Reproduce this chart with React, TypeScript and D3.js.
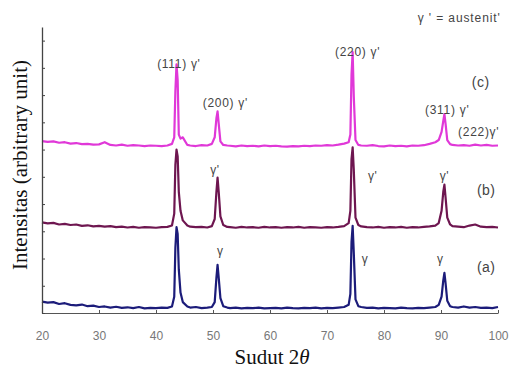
import { useEffect, useRef } from "react";
import * as d3 from "d3";

// 2θ sampling points (denser around the reflections)
const angles = [
  20, 21, 22, 23, 24, 25, 26, 27, 28, 29, 30, 31, 32, 33, 34, 35, 36, 37, 38, 39, 40, 41, 42, 42.8,
  43.2, 43.4, 43.6, 43.8, 44.0, 44.3, 44.7, 45.5,
  46, 47, 48, 49, 49.8,
  50.3, 50.6, 50.8, 51.0, 51.3, 51.8,
  52.5, 53, 54, 55, 56, 57, 58, 59, 60, 61, 62, 63, 64, 65, 66, 67, 68, 69, 70, 71, 72, 73,
  73.8, 74.1, 74.3, 74.5, 74.7, 75.0, 75.5,
  76, 77, 78, 79, 80, 81, 82, 83, 84, 85, 86, 87, 88, 89,
  89.6, 90.1, 90.4, 90.6, 90.8, 91.1, 91.6,
  92, 93, 94, 95, 96, 97, 98, 99, 100,
];

// intensities (arbitrary unit), before vertical offset
const intensityA = [
  0.42, 0.38, 0.4, 0.33, 0.36, 0.3, 0.28, 0.31, 0.25, 0.27, 0.22, 0.24, 0.2, 0.23, 0.19, 0.21, 0.18, 0.22, 0.17, 0.19, 0.18, 0.2, 0.19, 0.24,
  0.6, 2.4, 3.15, 2.9, 1.6, 0.75, 0.4, 0.24,
  0.2, 0.22, 0.18, 0.2, 0.22,
  0.4, 1.3, 1.77, 1.3, 0.55, 0.25,
  0.2, 0.18, 0.2, 0.17, 0.19, 0.18, 0.2, 0.17, 0.18, 0.19, 0.17, 0.2, 0.18, 0.17, 0.19, 0.18, 0.2, 0.17, 0.19, 0.18, 0.2, 0.22,
  0.3, 0.7, 2.6, 3.2, 2.2, 0.5, 0.25,
  0.22, 0.19, 0.2, 0.17, 0.19, 0.18, 0.17, 0.2, 0.18, 0.17, 0.19, 0.18, 0.2, 0.22,
  0.3, 0.6, 1.2, 1.47, 1.1, 0.45, 0.25,
  0.22, 0.2, 0.24, 0.2, 0.22, 0.19, 0.2, 0.18, 0.22,
];

const intensityB = [
  0.38, 0.34, 0.36, 0.3, 0.32, 0.28, 0.3, 0.25, 0.27, 0.23, 0.25, 0.22, 0.24, 0.2, 0.22, 0.19, 0.21, 0.18, 0.2, 0.19, 0.18, 0.2, 0.21, 0.26,
  0.7, 2.5, 3.05, 2.8, 1.5, 0.8, 0.45, 0.26,
  0.22, 0.2, 0.21, 0.19, 0.24,
  0.5, 1.5, 2.02, 1.5, 0.6, 0.28,
  0.21, 0.2, 0.18, 0.21, 0.19, 0.2, 0.18, 0.21, 0.19, 0.2, 0.18, 0.2, 0.19, 0.21, 0.18, 0.2, 0.19, 0.18, 0.2, 0.19, 0.21, 0.24,
  0.35, 0.8, 2.7, 3.13, 2.3, 0.55, 0.28,
  0.23, 0.2, 0.19, 0.21, 0.18, 0.2, 0.19, 0.21, 0.18, 0.2, 0.19, 0.21, 0.23, 0.26,
  0.35, 0.8, 1.5, 1.76, 1.3, 0.55, 0.3,
  0.24, 0.22, 0.2, 0.26, 0.3, 0.22, 0.2, 0.21, 0.19,
];

const intensityC = [
  0.36, 0.33, 0.35, 0.3, 0.32, 0.27, 0.29, 0.25, 0.26, 0.23, 0.24, 0.32, 0.22, 0.2, 0.23, 0.19, 0.21, 0.2, 0.18, 0.2, 0.19, 0.18, 0.2, 0.26,
  0.5, 2.2, 3.18, 2.6, 0.6, 0.45, 0.5, 0.22,
  0.2, 0.18, 0.21, 0.2, 0.26,
  0.5, 1.2, 1.45, 1.0, 0.35, 0.22,
  0.2, 0.19, 0.17, 0.2, 0.18, 0.19, 0.17, 0.2, 0.18, 0.19, 0.17, 0.16, 0.18, 0.17, 0.19, 0.18, 0.2, 0.19, 0.21, 0.2, 0.23, 0.27,
  0.32, 0.6, 2.8, 3.63, 2.0, 0.4, 0.22,
  0.2, 0.19, 0.21, 0.18, 0.17, 0.2, 0.18, 0.19, 0.17, 0.2, 0.19, 0.21, 0.26, 0.32,
  0.4, 0.7, 1.1, 1.35, 1.0, 0.4, 0.25,
  0.22, 0.2, 0.21, 0.19, 0.23, 0.2, 0.22, 0.19, 0.2,
];

const seriesOffsets = [0, 2.95, 5.95];
const seriesColors = ["#1c1c7a", "#6e1650", "#e038d8"];

const xTicks = [20, 30, 40, 50, 60, 70, 80, 90, 100];
const yTicks = [0, 1, 2, 3, 4, 5, 6, 7, 8, 9, 10];

// annotations in data coordinates (2θ, intensity)
const peakLabels = [
  { text: "(111) γ'", x: 40.2, y: 9.0, size: 12, spacing: 0.7 },
  { text: "(200) γ'", x: 48.2, y: 7.56, size: 12, spacing: 0.7 },
  { text: "(220) γ'", x: 71.4, y: 9.43, size: 12, spacing: 0.7 },
  { text: "(311) γ'", x: 87.2, y: 7.3, size: 12, spacing: 0.7 },
  { text: "(222)γ'", x: 93.0, y: 6.5, size: 12, spacing: 0.7 },
  { text: "γ ' = austenit'", x: 85.9, y: 10.68, size: 12, spacing: 0.9 },
  { text: "(c)", x: 95.4, y: 8.3, size: 14, spacing: 0.5 },
  { text: "γ'", x: 49.5, y: 5.1, size: 12, spacing: 0.5 },
  { text: "γ'", x: 77.2, y: 4.88, size: 12, spacing: 0.5 },
  { text: "γ'", x: 89.8, y: 4.88, size: 12, spacing: 0.5 },
  { text: "(b)", x: 96.3, y: 4.33, size: 14, spacing: 0.5 },
  { text: "γ", x: 50.7, y: 2.13, size: 12, spacing: 0 },
  { text: "γ", x: 76.1, y: 1.84, size: 12, spacing: 0 },
  { text: "γ", x: 89.3, y: 1.84, size: 12, spacing: 0 },
  { text: "(a)", x: 96.3, y: 1.5, size: 14, spacing: 0.5 },
];

export default function App() {
  const width = 513;
  const height = 369;
  const margin = { top: 27, right: 15, bottom: 56, left: 42 };
  const svgRef = useRef<SVGSVGElement | null>(null);

  useEffect(() => {
    if (!svgRef.current) return;
    const svg = d3.select(svgRef.current);
    svg.selectAll("*").remove();

    const xScale = d3
      .scaleLinear()
      .domain([20, 100])
      .range([margin.left, width - margin.right]);

    const yScale = d3
      .scaleLinear()
      .domain([0, 10.5])
      .range([height - margin.bottom, margin.top]);

    svg.append("rect").attr("width", width).attr("height", height).attr("fill", "#fff");

    // patterns, top one first so the lower ones sit over it
    const all = [intensityA, intensityB, intensityC];
    [2, 1, 0].forEach((i) => {
      const pts = angles.map((a, k) => [a, all[i][k] + seriesOffsets[i]] as [number, number]);
      const line = d3
        .line<[number, number]>()
        .x((d) => xScale(d[0]))
        .y((d) => yScale(d[1]));
      svg
        .append("path")
        .datum(pts)
        .attr("d", line)
        .attr("fill", "none")
        .attr("stroke", seriesColors[i])
        .attr("stroke-width", 2.2)
        .attr("stroke-linejoin", "round");
    });

    // x axis
    const xAxis = svg
      .append("g")
      .attr("transform", `translate(0,${height - margin.bottom})`)
      .call(
        d3
          .axisBottom(xScale)
          .tickValues(xTicks)
          .tickSizeInner(-3)
          .tickSizeOuter(0)
          .tickPadding(18)
      );
    xAxis.select(".domain").attr("stroke", "#555");
    xAxis.selectAll(".tick line").attr("stroke", "#555");
    xAxis
      .selectAll(".tick text")
      .attr("fill", "#777")
      .attr("font-size", 12)
      .attr("font-family", "Liberation Sans, Arial, sans-serif");

    // y axis
    const yAxis = svg
      .append("g")
      .attr("transform", `translate(${margin.left},0)`)
      .call(
        d3
          .axisLeft(yScale)
          .tickValues(yTicks)
          .tickSizeInner(-3)
          .tickSizeOuter(0)
          .tickFormat(() => "")
      );
    yAxis.select(".domain").attr("stroke", "#444").attr("stroke-width", 1.3);
    yAxis.selectAll(".tick line").attr("stroke", "#444");

    // annotations
    svg
      .append("g")
      .selectAll("text")
      .data(peakLabels)
      .enter()
      .append("text")
      .attr("x", (d) => xScale(d.x))
      .attr("y", (d) => yScale(d.y))
      .attr("font-size", (d) => d.size)
      .attr("letter-spacing", (d) => d.spacing)
      .attr("font-family", "Liberation Sans, Arial, sans-serif")
      .attr("fill", "#444")
      .text((d) => d.text);

    // axis titles
    const serif = "Liberation Serif, Times New Roman, serif";
    const xt = svg
      .append("text")
      .attr("x", 272)
      .attr("y", 364)
      .attr("text-anchor", "middle")
      .attr("font-family", serif)
      .attr("font-size", 21)
      .attr("fill", "#111");
    xt.append("tspan").text("Sudut 2");
    xt.append("tspan").attr("font-style", "italic").text("θ");

    svg
      .append("text")
      .attr("transform", `translate(27,165) rotate(-90)`)
      .attr("text-anchor", "middle")
      .attr("font-family", serif)
      .attr("font-size", 21)
      .attr("fill", "#111")
      .text("Intensitas (arbitrary unit)");
  }, []);

  return (
    <svg
      ref={svgRef}
      width={width}
      height={height}
      style={{ position: "absolute", left: 0, top: 0, display: "block" }}
    />
  );
}
